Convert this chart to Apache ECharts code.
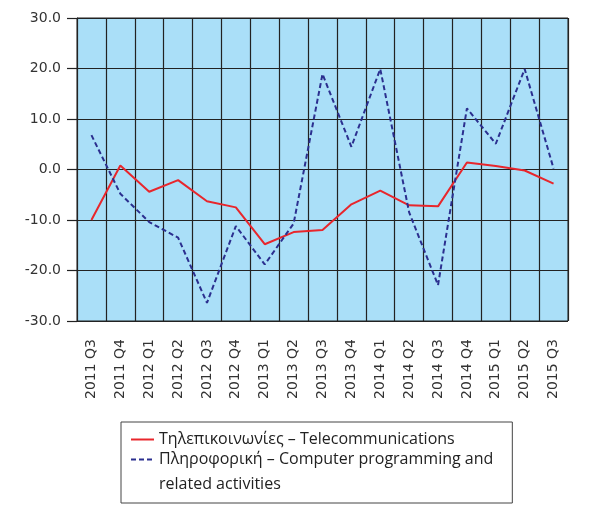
<!DOCTYPE html>
<html>
<head>
<meta charset="utf-8">
<script src="https://cdn.jsdelivr.net/npm/echarts@6/dist/echarts.min.js"></script>
<style>
  html, body { margin: 0; padding: 0; background: #fff; }
  #chart { width: 590px; height: 505px; }
</style>
</head>
<body>
<div id="chart"></div>
<script>
// Quarters on the category axis
const quarters = [
  '2011 Q3', '2011 Q4', '2012 Q1', '2012 Q2', '2012 Q3', '2012 Q4',
  '2013 Q1', '2013 Q2', '2013 Q3', '2013 Q4', '2014 Q1', '2014 Q2',
  '2014 Q3', '2014 Q4', '2015 Q1', '2015 Q2', '2015 Q3'
];

// Year-on-year change, %
const telecom = [-10.0, 0.8, -4.4, -2.1, -6.3, -7.5, -14.8, -12.4, -12.0, -6.9, -4.2, -7.1, -7.3, 1.4, 0.7, -0.2, -2.8];
const computing = [6.8, -4.8, -10.4, -13.5, -26.4, -11.2, -18.8, -10.7, 18.9, 4.5, 19.9, -8.5, -22.9, 12.1, 5.1, 19.9, 0.2];

// Value axis range
const yMin = -30;
const yMax = 30;
const yStep = 10;

const telecomName = 'Τηλεπικοινωνίες – Telecommunications';
const computingName = 'Πληροφορική – Computer programming and\nrelated activities';

const chart = echarts.init(document.getElementById('chart'));

const axisFont = 'DejaVu Sans';
const legendFont = 'Open Sans';

chart.setOption({
  animation: false,
  grid: {
    left: 77,
    top: 18,
    right: 22,
    bottom: 184,
    show: true,
    backgroundColor: '#aadff8',
    borderColor: '#222',
    borderWidth: 1
  },
  xAxis: {
    type: 'category',
    data: quarters,
    boundaryGap: true,
    axisLine: { show: true, lineStyle: { color: '#222', width: 1 } },
    axisTick: { show: false },
    splitLine: { show: true, interval: 0, lineStyle: { color: '#222', width: 1.2 } },
    axisLabel: {
      interval: 0,
      rotate: 90,
      margin: 18,
      color: '#333',
      fontFamily: axisFont,
      fontSize: 14
    }
  },
  yAxis: {
    type: 'value',
    min: yMin,
    max: yMax,
    interval: yStep,
    axisLine: { show: true, lineStyle: { color: '#222', width: 1 } },
    axisTick: { show: true, length: 10, lineStyle: { color: '#222', width: 1.2 } },
    splitLine: { show: true, lineStyle: { color: '#222', width: 1.2 } },
    axisLabel: {
      margin: 16,
      color: '#333',
      fontFamily: axisFont,
      fontSize: 14,
      formatter: v => v.toFixed(1)
    }
  },
  legend: {
    orient: 'vertical',
    left: 121,
    top: 422,
    height: 150,
    padding: [0, 19, 6, 9],
    itemGap: -27.5,
    itemWidth: 23,
    itemHeight: 14,
    borderColor: '#444',
    borderWidth: 1,
    backgroundColor: '#fff',
    itemStyle: { color: 'rgba(0,0,0,0)', borderWidth: 0, opacity: 0 },
    // a leading blank line keeps the icon level with the first line of a wrapped name
    formatter: name => (name.indexOf('\n') >= 0 ? '\n' + name : name),
    textStyle: {
      fontFamily: legendFont,
      fontSize: 16,
      color: '#222',
      lineHeight: 20
    },
    data: [
      { name: telecomName },
      { name: computingName, textStyle: { lineHeight: 25 } }
    ]
  },
  series: [
    {
      name: telecomName,
      type: 'line',
      data: telecom,
      symbol: 'none',
      lineStyle: { color: '#e8262c', width: 2 },
      itemStyle: { color: '#e8262c' }
    },
    {
      name: computingName,
      type: 'line',
      data: computing,
      symbol: 'none',
      lineStyle: { color: '#2b2f8f', width: 2, type: [5, 3] },
      itemStyle: { color: '#2b2f8f' }
    }
  ]
});
</script>
</body>
</html>
